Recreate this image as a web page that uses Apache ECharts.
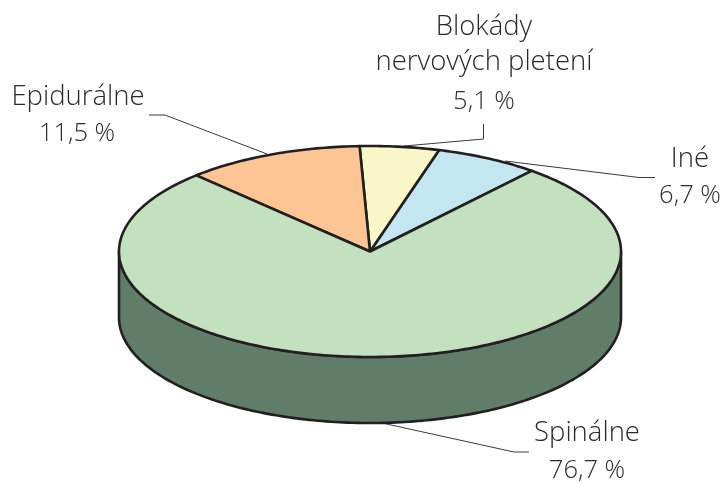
<!DOCTYPE html>
<html>
<head>
<meta charset="utf-8">
<style>
  html, body { margin: 0; padding: 0; background: #fff; }
  #chart { width: 724px; height: 483px; }
</style>
<script src="https://cdn.jsdelivr.net/npm/echarts@6/dist/echarts.min.js"></script>
</head>
<body>
<div id="chart"></div>
<script>
// slices, counter-clockwise from the right edge of "Iné"
const categories = ['Iné', 'Blokády nervových pletení', 'Epidurálne', 'Spinálne']
const values = [6.7, 5.1, 11.5, 76.7]
const valueLabels = ['6,7 %', '5,1 %', '11,5 %', '76,7 %']
const colors = ['#c4e6f0', '#f9f6c7', '#fdc494', '#c3e1bf']
const wallColor = '#607d6a'

// pie geometry
const cx = 370
const cy = 251.5
const rx = 251
const ry = 105.5
const depth = 66
const startDeg = 49.9
const outline = '#231f20'
const textColor = '#2a2a2e'
const fontFamily = 'Open Sans'
const nameSize = 27.5
const valueSize = 25.5

const total = values.reduce((a, b) => a + b, 0)

function sliceRange(index) {
  let from = startDeg
  for (let i = 0; i < index; i++) from += values[i] / total * 360
  return [from, from + values[index] / total * 360]
}

function edgePoint(deg, dy) {
  const a = deg * Math.PI / 180
  return [cx + rx * Math.cos(a), cy - ry * Math.sin(a) + dy]
}

function arcPoints(from, to, dy) {
  const pts = []
  const n = Math.max(2, Math.ceil(Math.abs(to - from)))
  for (let i = 0; i <= n; i++) pts.push(edgePoint(from + (to - from) * i / n, dy))
  return pts
}

function renderWall(params, api) {
  const range = sliceRange(params.dataIndex)
  // only the front half of the rim can be seen
  const from = Math.max(range[0], 180)
  const to = Math.min(range[1], 360)
  if (to <= from) return null
  const pts = arcPoints(from, to, 0).concat(arcPoints(to, from, depth))
  return {
    type: 'polygon',
    shape: { points: pts },
    style: { fill: wallColor, stroke: outline, lineWidth: 2.6, lineJoin: 'round' }
  }
}

function renderTop(params, api) {
  const range = sliceRange(params.dataIndex)
  const pts = [[cx, cy]].concat(arcPoints(range[0], range[1], 0))
  return {
    type: 'polygon',
    shape: { points: pts },
    style: { fill: colors[params.dataIndex], stroke: outline, lineWidth: 2.6, lineJoin: 'round' }
  }
}

// text lines and leader lines around the pie
const labelLines = [
  { text: 'Blokády', x: 484, y: 27, size: nameSize },
  { text: 'nervových pletení', x: 484, y: 62, size: nameSize },
  { text: valueLabels[1], x: 484, y: 102, size: valueSize },
  { text: 'Epidurálne', x: 78, y: 97, size: nameSize },
  { text: valueLabels[2], x: 77, y: 134, size: valueSize },
  { text: 'Iné', x: 690, y: 159, size: nameSize },
  { text: valueLabels[0], x: 690, y: 196, size: valueSize },
  { text: 'Spinálne', x: 587, y: 433, size: nameSize },
  { text: valueLabels[3], x: 587, y: 471, size: valueSize }
]
const leaders = [
  [[149, 115], [165, 115], [267, 154]],
  [[483.5, 124], [483.5, 139], [404, 146]],
  [[655, 177.5], [639, 177.5], [505, 161]],
  [[529, 452], [514, 452], [382, 423]]
]

const chart = echarts.init(document.getElementById('chart'))
chart.setOption({
  animation: false,
  backgroundColor: '#fff',
  tooltip: { show: false },
  series: [
    {
      type: 'custom',
      name: 'wall',
      coordinateSystem: 'none',
      silent: true,
      renderItem: renderWall,
      data: values
    },
    {
      type: 'custom',
      name: 'top',
      coordinateSystem: 'none',
      silent: true,
      renderItem: renderTop,
      data: values.map((v, i) => ({ name: categories[i], value: v }))
    }
  ],
  graphic: leaders.map(points => ({
    type: 'polyline',
    z: 1,
    shape: { points: points },
    style: { fill: null, stroke: '#3a3a3a', lineWidth: 1 }
  })).concat(labelLines.map(l => ({
    type: 'text',
    x: l.x,
    y: l.y,
    z: 10,
    style: {
      text: l.text,
      fill: textColor,
      font: '300 ' + l.size + 'px "' + fontFamily + '"',
      align: 'center',
      verticalAlign: 'middle'
    }
  })))
})
window.addEventListener('resize', function() {
  chart.resize()
})
</script>
</body>
</html>
